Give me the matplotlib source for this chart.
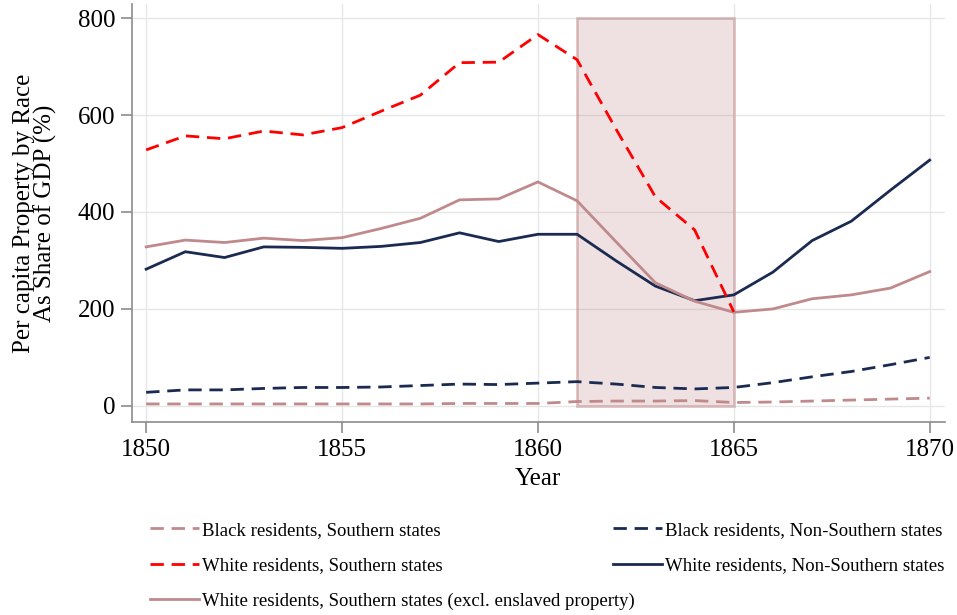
import matplotlib
matplotlib.use("Agg")
import matplotlib.pyplot as plt
from matplotlib.patches import Rectangle

years = list(range(1850, 1871))
black_south = [4, 4, 4, 4, 4, 4, 4, 4, 5, 5, 5, 9, 10, 10, 11, 7, 8, 10, 12, 14, 16]
black_nonsouth = [28, 33, 33, 36, 38, 38, 39, 42, 45, 44, 47, 50, 45, 38, 35, 38, 48, 60, 71, 85, 100]
white_south = [528, 557, 551, 567, 559, 574, 608, 641, 708, 709, 766, 714, 570, 431, 363, 194,
               None, None, None, None, None]
white_nonsouth = [282, 318, 306, 328, 327, 325, 329, 337, 357, 339, 354, 354, 299, 247, 217, 229,
                  276, 341, 381, 445, 507]
white_south_excl = [328, 342, 337, 346, 341, 347, 366, 387, 425, 427, 462, 423, 338, 254, 216, 193,
                    200, 221, 229, 243, 277]
war_start, war_end = 1861, 1865
yticks = [0, 200, 400, 600, 800]
xticks = [1850, 1855, 1860, 1865, 1870]

labels = ["Black residents, Southern states",
          "Black residents, Non-Southern states",
          "White residents, Southern states",
          "White residents, Non-Southern states",
          "White residents, Southern states (excl. enslaved property)"]

pink = "#c08a8c"
navy = "#1a2a50"
red = "#ff0000"

plt.rcParams['font.family'] = ['Liberation Serif', 'DejaVu Serif']

fig = plt.figure(figsize=(9.57, 6.15), dpi=100)
ax = fig.add_axes([0.138, 0.314, 0.849, 0.6795])

ax.add_patch(Rectangle((war_start, 0), war_end - war_start, 800,
                       facecolor=pink, alpha=0.25, edgecolor="none", zorder=1))
ax.add_patch(Rectangle((war_start, 0), war_end - war_start, 800,
                       facecolor="none", edgecolor=pink, alpha=0.5, linewidth=2, zorder=1))

ws_y = [v for v in white_south if v is not None]
ws_x = years[:len(ws_y)]

dash = (4.8, 2.8)
h_bs, = ax.plot(years, black_south, color=pink, lw=2, dashes=dash, zorder=3)
h_bn, = ax.plot(years, black_nonsouth, color=navy, lw=2, dashes=dash, zorder=3)
h_ws, = ax.plot(ws_x, ws_y, color=red, lw=2, dashes=dash, zorder=4)
h_wn, = ax.plot(years, white_nonsouth, color=navy, lw=2, zorder=3)
h_we, = ax.plot(years, white_south_excl, color=pink, lw=2, zorder=3)

ax.set_xlim(1849.64, 1870.38)
ax.set_ylim(-33, 829)
ax.set_xticks(xticks)
ax.set_yticks(yticks)
ax.grid(True, color="#e6e6e6", lw=1)
ax.set_axisbelow(True)
for s in ["top", "right"]:
    ax.spines[s].set_visible(False)
for s in ["left", "bottom"]:
    ax.spines[s].set_color("#8c8c8c")
    ax.spines[s].set_linewidth(1.2)
ax.tick_params(axis="both", direction="out", length=8, width=1.2, color="#8c8c8c",
               labelsize=18, labelcolor="black", pad=4)
ax.set_xlabel("Year", fontsize=18, labelpad=5)
ax.set_ylabel("Per capita Property by Race\nAs Share of GDP (%)", fontsize=18,
              linespacing=0.95, labelpad=15)

leg_kw = dict(loc="upper left", frameon=False, fontsize=13.5, handlelength=2.6,
              handletextpad=0.15, labelspacing=0.98, borderpad=0, borderaxespad=0)
fig.legend([h_bs, h_ws, h_we], [labels[0], labels[2], labels[4]],
           bbox_to_anchor=(0.1567, 0.152), **leg_kw)
fig.legend([h_bn, h_wn], [labels[1], labels[3]],
           bbox_to_anchor=(0.6405, 0.152), **leg_kw)

fig.savefig("out.png", dpi=100)
